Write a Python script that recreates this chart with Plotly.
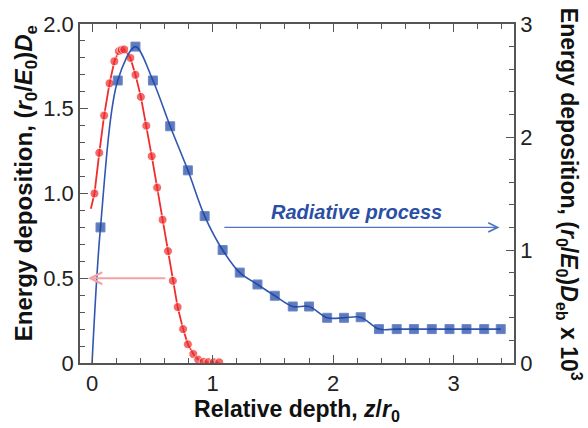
import plotly.graph_objects as go

# Electron energy deposition D_e (left axis), circles
red_x = [-0.01, 0.02, 0.06, 0.10, 0.145, 0.185, 0.222, 0.245, 0.267, 0.318, 0.36,
         0.405, 0.45, 0.495, 0.54, 0.585, 0.63, 0.67, 0.71, 0.755, 0.795, 0.84,
         0.88, 0.925, 0.965, 1.01, 1.055]
red_y = [0.91, 1.00, 1.24, 1.46, 1.65, 1.78, 1.84, 1.847, 1.85, 1.80, 1.70,
         1.57, 1.40, 1.22, 1.035, 0.845, 0.66, 0.485, 0.33, 0.20, 0.11, 0.053,
         0.02, 0.007, 0.005, 0.004, 0.004]
red_marker = [0] + [9] * (len(red_x) - 1)

# Bremsstrahlung (radiative) deposition D_eb x 10^3 (right axis), squares
blue_x = [0.0, 0.07, 0.213, 0.36, 0.505, 0.648, 0.795, 0.934, 1.083, 1.225,
          1.372, 1.516, 1.665, 1.80, 1.95, 2.09, 2.228, 2.38, 2.527, 2.67,
          2.818, 2.965, 3.106, 3.253, 3.39]
blue_y = [0.0, 1.20, 2.50, 2.80, 2.50, 2.095, 1.705, 1.30, 1.00, 0.80,
          0.695, 0.595, 0.50, 0.50, 0.40, 0.40, 0.405, 0.30, 0.30, 0.30,
          0.30, 0.30, 0.30, 0.30, 0.30]
blue_marker = [0] + [9] * (len(blue_x) - 1)

x_ticks = [0, 1, 2, 3]
y_ticks = [0, 0.5, 1.0, 1.5, 2.0]
y_ticktext = ["0", "0.5", "1.0", "1.5", "2.0"]
y2_ticks = [0, 1, 2, 3]

RED = "#f02c2c"
BLUE_LINE = "#2f57b2"
BLUE_MARK = "#1b43a0"
AXIS = "#555555"
FONT = "Arial, Liberation Sans, sans-serif"

fig = go.Figure()
fig.add_trace(go.Scatter(
    x=red_x, y=red_y, mode="lines+markers",
    line=dict(color=RED, width=1.8),
    marker=dict(symbol="circle", size=red_marker, color=RED),
    yaxis="y", showlegend=False,
))
fig.add_trace(go.Scatter(
    x=blue_x, y=blue_y, mode="lines+markers",
    line=dict(color=BLUE_LINE, width=1.6, shape="spline", smoothing=0.9),
    marker=dict(symbol="square", size=blue_marker, color=BLUE_MARK),
    yaxis="y2", showlegend=False,
))

axis_common = dict(
    showline=True, linecolor=AXIS, linewidth=1.5,
    ticks="inside", tickcolor=AXIS, tickwidth=1.2,
    showgrid=False, zeroline=False,
    tickfont=dict(family=FONT, size=22, color="#222222"),
)

fig.update_layout(
    width=588, height=428,
    margin=dict(l=80, r=74, t=16, b=63),
    paper_bgcolor="white", plot_bgcolor="white",
    font=dict(family=FONT, color="#222222"),
    xaxis=dict(
        range=[-0.1, 3.5], tickvals=x_ticks, ticklen=8,
        minor=dict(dtick=0.2, tick0=0, ticklen=5, ticks="inside", tickcolor=AXIS),
        title=dict(text="<b>Relative depth, <i>z</i>/<i>r</i><sub>0</sub></b>",
                   font=dict(family=FONT, size=23, color="#111111"), standoff=4),
        **axis_common,
    ),
    # frame along the top edge carrying the same ticks, no labels
    xaxis2=dict(
        range=[-0.1, 3.5], tickvals=x_ticks, ticklen=8, overlaying="x",
        side="top", showticklabels=False,
        minor=dict(dtick=0.2, tick0=0, ticklen=5, ticks="inside", tickcolor=AXIS),
        **axis_common,
    ),
    yaxis=dict(
        range=[0, 2], tickvals=y_ticks, ticktext=y_ticktext, ticklen=8,
        minor=dict(dtick=0.1, tick0=0, ticklen=5, ticks="inside", tickcolor=AXIS),
        **axis_common,
    ),
    yaxis2=dict(
        range=[0, 3], tickvals=y2_ticks, ticklen=8, overlaying="y", side="right",
        minor=dict(dtick=0.2, tick0=0, ticklen=5, ticks="inside", tickcolor=AXIS),
        **axis_common,
    ),
)

# empty trace so the top frame axis is laid out
fig.add_trace(go.Scatter(x=[None], y=[None], xaxis="x2", yaxis="y",
                         showlegend=False, hoverinfo="skip"))

annotations = [
    # axis titles
    dict(text="<b>Energy deposition, (<i>r</i><sub>0</sub>/<i>E</i><sub>0</sub>)<i>D</i><sub>e</sub></b>",
         xref="paper", yref="paper", x=-0.127, y=0.53, textangle=-90,
         showarrow=False, xanchor="center", yanchor="middle",
         font=dict(family=FONT, size=24, color="#111111")),
    dict(text="<b>Energy deposition, (<i>r</i><sub>0</sub>/<i>E</i><sub>0</sub>)<i>D</i><sub>eb</sub> x 10<sup>3</sup></b>",
         xref="paper", yref="paper", x=1.129, y=0.496, textangle=90,
         showarrow=False, xanchor="center", yanchor="middle",
         font=dict(family=FONT, size=23, color="#111111")),
    # electron-curve arrow pointing to the left axis
    dict(text="", x=-0.035, y=0.5, xref="x", yref="y",
         ax=0.62, ay=0.5, axref="x", ayref="y",
         showarrow=True, arrowhead=5, arrowsize=1.3, arrowwidth=1.8,
         arrowcolor="#f4a3a3"),
    # radiative-curve arrow pointing to the right axis
    dict(text="", x=3.38, y=1.2, xref="x", yref="y2",
         ax=1.085, ay=1.2, axref="x", ayref="y2",
         showarrow=True, arrowhead=5, arrowsize=1.4, arrowwidth=1.3,
         arrowcolor="#5073c4"),
    dict(text="<b><i>Radiative process</i></b>", x=2.19, y=1.34,
         xref="x", yref="y2", showarrow=False,
         font=dict(family=FONT, size=20, color="#2a4fa5")),
]
fig.update_layout(annotations=annotations)

fig.write_html("out.html")
